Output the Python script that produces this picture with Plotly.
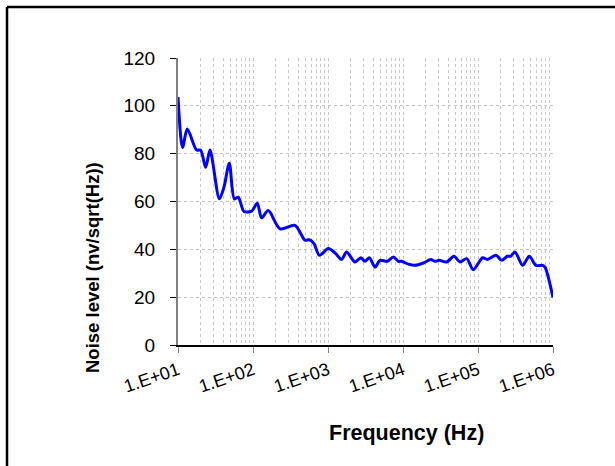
import plotly.graph_objects as go

freq_hz = [10, 11.5, 13.3, 17.7, 20, 23.4, 26.7, 35.6, 41, 48.3, 56.4, 63.7, 75.9, 96, 114, 130, 160,
           229, 363, 494, 563, 650, 766, 1010, 1240, 1520, 1770, 2290, 2730, 3110, 3560, 4240, 4930,
           6180, 7430, 8650, 9590, 11800, 14500, 18700, 23400, 26700, 30500, 38200, 47900, 57500,
           70600, 86700, 115000, 133000, 174000, 207000, 246000, 273000, 311000, 394000, 483000,
           593000, 729000, 782000, 1000000]
noise_level = [103.7, 82.6, 90.3, 81.5, 81.5, 74.3, 81.5, 61.1, 66, 76, 61.1, 61.8, 55.8, 56, 59.3, 53.2, 56.2,
               48.6, 50, 43.8, 44, 42.4, 37.5, 40.3, 38.5, 35.8, 38.9, 34.7, 36.5, 35, 36.5, 32.6, 35.4,
               35, 36.8, 35, 35, 33.8, 33.3, 34.3, 35.7, 35, 35.4, 34.7, 37.1, 34.7, 36.1, 31.5, 36.5, 35.8,
               37.5, 35.4, 37.1, 37.1, 38.9, 33.3, 37.1, 33.3, 33.3, 32.6, 19.9]
x_tick_vals = [10, 100, 1000, 10000, 100000, 1000000]
x_tick_text = ["1.E+01", "1.E+02", "1.E+03", "1.E+04", "1.E+05", "1.E+06"]
x_minor_vals = [m * 10 ** k for k in range(1, 6) for m in range(2, 10)]
y_tick_vals = [0, 20, 40, 60, 80, 100, 120]

FONT = "Arial, Liberation Sans, sans-serif"
W, H = 615, 466
L, R, T, B = 178, 62, 58, 121
pw, ph = W - L - R, H - T - B

def px(x):
    return (x - L) / pw

def py(y):
    return 1 - (y - T) / ph

fig = go.Figure()
fig.add_trace(go.Scatter(x=freq_hz, y=noise_level, mode="lines",
                         line=dict(color="#0000FF", width=3, shape="spline", smoothing=0.8),
                         showlegend=False))

fig.update_layout(
    width=W, height=H,
    margin=dict(l=L, r=R, t=T, b=B),
    paper_bgcolor="white", plot_bgcolor="white",
    font=dict(family=FONT, color="black"),
    xaxis=dict(type="log", range=[1, 6], tickvals=x_tick_vals, ticktext=x_tick_text,
               tickangle=-19, tickfont=dict(size=18), ticks="outside", ticklen=6,
               tickcolor="#808080", showline=True, linecolor="black", linewidth=2,
               showgrid=True, gridcolor="#c4c4c4", griddash="dot", gridwidth=1,
               minor=dict(showgrid=True, tickvals=x_minor_vals, gridcolor="#c8c8c8",
                          griddash="dot", gridwidth=1, ticks=""),
               zeroline=False),
    yaxis=dict(range=[0, 120], tickvals=y_tick_vals, tickfont=dict(size=19),
               ticks="outside", ticklen=6, tickcolor="black", ticklabelstandoff=11,
               showline=True, linecolor="#808080", linewidth=2,
               showgrid=True, gridcolor="#c4c4c4", griddash="dot", gridwidth=1,
               zeroline=False),
    annotations=[
        dict(text="<b>Frequency (Hz)</b>", xref="paper", yref="paper", x=px(406), y=py(433),
             showarrow=False, font=dict(size=21.5, family=FONT), xanchor="center", yanchor="middle"),
        dict(text="<b>Noise level (nv/sqrt(Hz))</b>", xref="paper", yref="paper", x=px(92), y=py(268),
             showarrow=False, textangle=-90, font=dict(size=18.5, family=FONT),
             xanchor="center", yanchor="middle"),
    ],
    shapes=[
        dict(type="line", xref="paper", yref="paper", x0=px(7), x1=px(640), y0=py(7), y1=py(7),
             line=dict(color="black", width=2.5)),
        dict(type="line", xref="paper", yref="paper", x0=px(7), x1=px(7), y0=py(7), y1=py(500),
             line=dict(color="black", width=2.5)),
    ],
)

fig.write_html("out.html", config={"displayModeBar": False},
               post_script="document.body.style.margin='0px';")
